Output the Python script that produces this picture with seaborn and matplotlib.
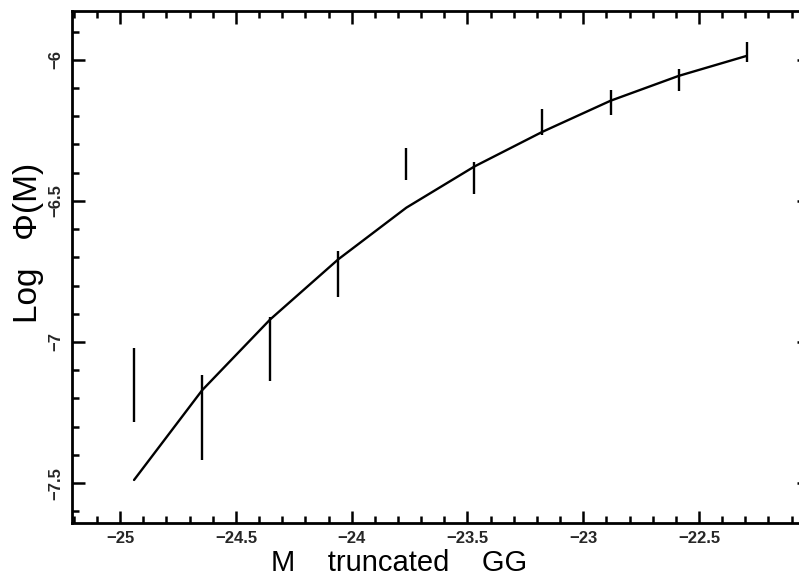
import matplotlib
matplotlib.use("Agg")
import matplotlib.pyplot as plt
import seaborn as sns
import numpy as np
import pandas as pd
from matplotlib.ticker import MultipleLocator

# Data
mag = [-24.94, -24.646, -24.352, -24.058, -23.764, -23.47, -23.176, -22.882, -22.588, -22.294]
obs_logphi = [-7.153, -7.268, -7.026, -6.759, -6.368, -6.419, -6.219, -6.150, -6.071, -5.972]
obs_err = [0.131, 0.150, 0.113, 0.083, 0.057, 0.058, 0.046, 0.044, 0.039, 0.035]
model_logphi = [-7.489, -7.171, -6.920, -6.707, -6.524, -6.378, -6.255, -6.145, -6.057, -5.986]

x_ticks = [-25, -24.5, -24, -23.5, -23, -22.5]
x_ticklabels = ["\u221225", "\u221224.5", "\u221224", "\u221223.5", "\u221223", "\u221222.5"]
y_ticks = [-7.5, -7, -6.5, -6]
y_ticklabels = ["\u22127.5", "\u22127", "\u22126.5", "\u22126"]

sns.set_theme(style="ticks")
plt.rcParams["font.family"] = ["Liberation Sans", "DejaVu Sans"]

fig = plt.figure(figsize=(7.99, 5.79), dpi=100)
ax = fig.add_axes([72 / 799, 1 - 523 / 579, (809 - 72) / 799, (523 - 11) / 579])

df = pd.DataFrame({"M": mag, "model": model_logphi, "obs": obs_logphi, "err": obs_err})
sns.lineplot(data=df, x="M", y="model", ax=ax, color="black", linewidth=1.7)
ax.errorbar(df["M"], df["obs"], yerr=df["err"], fmt="none", ecolor="black",
            elinewidth=1.7, capsize=0)

ax.set_xlim(-25.208, -22.025)
ax.set_ylim(-7.6415, -5.827)

ax.set_xticks(x_ticks)
ax.set_xticklabels(x_ticklabels, fontsize=12, fontweight="bold")
ax.set_yticks(y_ticks)
ax.set_yticklabels(y_ticklabels, fontsize=12, fontweight="bold", rotation=90, va="center")
ax.xaxis.set_minor_locator(MultipleLocator(0.1))
ax.yaxis.set_minor_locator(MultipleLocator(0.1))

ax.tick_params(which="both", direction="in", top=True, right=True, color="black", width=1.8)
ax.tick_params(which="major", length=9, pad=6)
ax.tick_params(which="minor", length=5)

for s in ax.spines.values():
    s.set_visible(True)
    s.set_linewidth(2.0)
    s.set_color("black")

ax.set_xlabel("M    truncated    GG", fontsize=21, labelpad=2, color="black")
ax.xaxis.label.set_x(0.444)
ax.set_ylabel("Log   \u03a6(M)", fontsize=24, color="black")
ax.yaxis.set_label_coords(-0.038, 0.547)

fig.savefig("out.png", dpi=100)
